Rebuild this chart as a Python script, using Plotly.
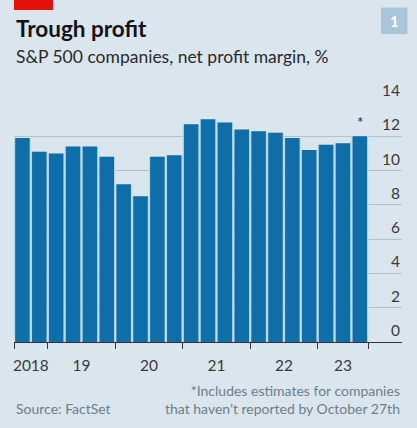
import plotly.graph_objects as go

# ---- data ----
quarters = ["2018 Q3", "2018 Q4",
            "2019 Q1", "2019 Q2", "2019 Q3", "2019 Q4",
            "2020 Q1", "2020 Q2", "2020 Q3", "2020 Q4",
            "2021 Q1", "2021 Q2", "2021 Q3", "2021 Q4",
            "2022 Q1", "2022 Q2", "2022 Q3", "2022 Q4",
            "2023 Q1", "2023 Q2", "2023 Q3"]
margins = [11.9, 11.1, 11.0, 11.4, 11.4, 10.8,
           9.2, 8.5, 10.8, 10.9,
           12.7, 13.0, 12.8, 12.4,
           12.3, 12.2, 11.9, 11.2,
           11.5, 11.6, 12.0]
y_ticks = [0, 2, 4, 6, 8, 10, 12, 14]
year_labels = ["2018", "19", "20", "21", "22", "23"]
year_centers = [0.5, 3.5, 7.5, 11.5, 15.5, 19.0]
year_bounds = [-0.5, 1.5, 5.5, 9.5, 13.5, 17.5, 20.5]

BG = "#dae5ee"
BAR = "#0f6ea8"
GAP = "#b9d8ee"
FONT = "Lato"

x_idx = list(range(len(margins)))

fig = go.Figure()
# light backing (shows through the gaps between bars)
fig.add_trace(go.Bar(x=x_idx, y=margins, width=1.0,
                     marker=dict(color=GAP, line=dict(width=0)), hoverinfo="skip"))
fig.add_trace(go.Bar(x=x_idx, y=margins, width=0.86,
                     marker=dict(color=BAR, line=dict(width=0)),
                     hovertext=quarters, hoverinfo="text+y"))
# invisible trace for second x axis labels
fig.add_trace(go.Scatter(x=[x_idx[0]], y=[0], xaxis="x2", mode="markers",
                         marker=dict(opacity=0), showlegend=False, hoverinfo="skip"))

# plot area in pixels: left 14, right 402, top 101.5, bottom 342.5
L, R, T, B = 14, 402, 101.5, 342.5
W, H = 417, 428

def py(p):  # pixel y -> paper y
    return (B - p) / (B - T)

def px(p):
    return (p - L) / (R - L)

fig.update_layout(
    width=W, height=H,
    margin=dict(l=L, r=W - R, t=T, b=H - B, pad=0),
    paper_bgcolor=BG, plot_bgcolor=BG,
    showlegend=False,
    barmode="overlay",
    font=dict(family=FONT, color="#3a3a3a", size=15),
    xaxis=dict(range=[-0.5, 22.5], tickvals=year_bounds, showticklabels=False,
               ticks="outside", ticklen=6, tickwidth=1, tickcolor="#333333",
               showline=True, linecolor="#333333", linewidth=1.2,
               showgrid=False, zeroline=False, fixedrange=True),
    xaxis2=dict(range=[-0.5, 22.5], overlaying="x", anchor="y", side="bottom",
                tickvals=year_centers, ticktext=year_labels,
                ticks="outside", ticklen=9, tickcolor="rgba(0,0,0,0)",
                showline=False, showgrid=False, zeroline=False,
                tickfont=dict(family=FONT, size=15.5, color="#3a3a3a")),
    yaxis=dict(range=[0, 14], tickvals=y_ticks, showticklabels=False,
               showgrid=True, gridcolor="#b3c1cb", gridwidth=1,
               zeroline=False, side="right", fixedrange=True),
)

annotations = []
for v in y_ticks:
    annotations.append(dict(x=1, xref="paper", y=v, yref="y", text=str(v),
                            xanchor="right", yanchor="bottom", yshift=1,
                            showarrow=False,
                            font=dict(family=FONT, size=15.5, color="#3a3a3a")))
# asterisk on last bar
annotations.append(dict(x=x_idx[-1], xref="x", y=margins[-1], yref="y", text="*",
                        xanchor="center", yanchor="bottom", yshift=3, showarrow=False,
                        font=dict(family=FONT, size=15, color="#222222")))
# title and subtitle
annotations.append(dict(x=0, xref="paper", y=py(28), yref="paper", text="<b>Trough profit</b>",
                        xanchor="left", yanchor="middle", showarrow=False,
                        font=dict(family=FONT, size=22.5, color="#121212")))
annotations.append(dict(x=0, xref="paper", y=py(56), yref="paper",
                        text="S&P 500 companies, net profit margin, %",
                        xanchor="left", yanchor="middle", showarrow=False,
                        font=dict(family=FONT, size=17.5, color="#2a2a2a")))
# badge number
annotations.append(dict(x=px(394.3), xref="paper", y=py(20), yref="paper", text="<b>1</b>",
                        xanchor="center", yanchor="middle", showarrow=False,
                        font=dict(family=FONT, size=15, color="#ffffff")))
# footer
annotations.append(dict(x=0, xref="paper", y=py(409), yref="paper", text="Source: FactSet",
                        xanchor="left", yanchor="middle", showarrow=False,
                        font=dict(family=FONT, size=14, color="#6f7e88")))
annotations.append(dict(x=1, xref="paper", y=py(400), yref="paper",
                        text="*Includes estimates for companies<br>that haven’t reported by October 27th",
                        xanchor="right", yanchor="middle", align="right", showarrow=False,
                        font=dict(family=FONT, size=14, color="#6f7e88")))
fig.update_layout(annotations=annotations)

fig.update_layout(shapes=[
    dict(type="rect", xref="paper", yref="paper", x0=px(14), x1=px(53),
         y0=py(9), y1=py(-1), fillcolor="#e3120b", line=dict(width=0), layer="above"),
    dict(type="rect", xref="paper", yref="paper", x0=px(381), x1=px(407.5),
         y0=py(33.3), y1=py(6.7), fillcolor="#a9c5d8", line=dict(width=0), layer="above"),
])

fig.write_html("out.html", config=dict(displayModeBar=False),
               post_script="document.body.style.margin='0';document.body.style.background='" + BG + "';")
